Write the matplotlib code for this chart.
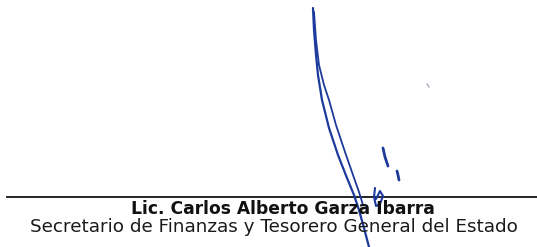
import matplotlib.pyplot as plt

# signature stroke points (x, y) in image pixels
stroke_a_x = [313, 314, 316, 318, 322, 329, 338, 347, 354, 359, 364, 369]
stroke_a_y = [8, 30, 55, 75, 100, 128, 155, 178, 195, 210, 228, 247]
stroke_b_x = [314, 316, 319, 324, 329, 336, 345, 353, 359, 363]
stroke_b_y = [12, 40, 65, 85, 100, 125, 152, 175, 192, 205]
mark1_x = [383, 385, 388]
mark1_y = [148, 157, 166]
mark2_x = [397, 398, 399]
mark2_y = [171, 175, 180]
fa_x = [375, 374, 376, 380, 383, 380, 376]
fa_y = [188, 197, 206, 204, 196, 191, 199]
dot_x = [427, 429]
dot_y = [84, 87]

name = "Lic. Carlos Alberto Garza Ibarra"
position = "Secretario de Finanzas y Tesorero General del Estado"
line_y = 197

fig = plt.figure(figsize=(5.37, 2.47), dpi=100)
ax = fig.add_axes([0, 0, 1, 1])
ax.set_xlim(0, 537)
ax.set_ylim(247, 0)
ax.axis("off")

ax.plot([7, 537], [line_y, line_y], color="#111111", lw=1.3)

ax.text(283, 208.5, name, ha="center", va="center", fontsize=12.3,
        fontweight="bold", family="DejaVu Sans", color="#111111")
ax.text(274, 226.5, position, ha="center", va="center", fontsize=13.2,
        family="DejaVu Sans", color="#1a1a1a")

blue = "#1c3a9c"
ax.plot(stroke_a_x, stroke_a_y, color=blue, lw=1.6, solid_capstyle="round")
ax.plot(stroke_b_x, stroke_b_y, color=blue, lw=1.3, solid_capstyle="round")
ax.plot(mark1_x, mark1_y, color=blue, lw=2.0, solid_capstyle="round")
ax.plot(mark2_x, mark2_y, color=blue, lw=2.0, solid_capstyle="round")
ax.plot(fa_x, fa_y, color=blue, lw=1.5, solid_capstyle="round")
ax.plot(dot_x, dot_y, color="#8899aa", lw=0.8)

fig.savefig("out.png", dpi=100)
